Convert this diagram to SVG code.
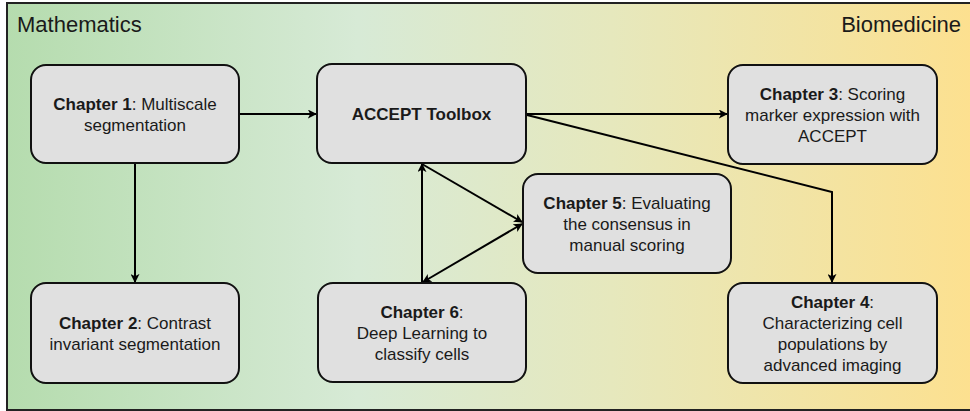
<svg xmlns="http://www.w3.org/2000/svg" width="970" height="411" viewBox="0 0 970 411">
  <defs>
    <linearGradient id="bg" x1="0" y1="0" x2="1" y2="0">
      <stop offset="0" stop-color="#b5dcae"/>
      <stop offset="0.36" stop-color="#d7ead6"/>
      <stop offset="0.62" stop-color="#e6e8bd"/>
      <stop offset="1" stop-color="#fde08e"/>
    </linearGradient>
    <marker id="ah" viewBox="0 0 10 10" refX="9" refY="5" markerWidth="9" markerHeight="9" markerUnits="userSpaceOnUse" orient="auto-start-reverse">
      <path d="M0,0 L10,5 L0,10 L2.5,5 Z" fill="#000"/>
    </marker>
    <style>
      .box { fill: #e0e0e0; stroke: #111; stroke-width: 2; }
      .lbl { font-family: "Liberation Sans", Arial, sans-serif; font-size: 17px; fill: #1a1a1a; text-anchor: middle; }
      .b { font-weight: bold; }
      .side { font-family: "Liberation Sans", Arial, sans-serif; font-size: 22px; fill: #1a1a1a; }
      .edge { fill: none; stroke: #000; stroke-width: 2; }
    </style>
  </defs>

  <!-- background panel -->
  <rect x="7" y="3" width="975" height="407" fill="url(#bg)" stroke="#222" stroke-width="2"/>
  <text class="side" x="17" y="32">Mathematics</text>
  <text class="side" x="961" y="32" text-anchor="end">Biomedicine</text>

  <!-- connectors -->
  <g id="edges">
    <line class="edge" x1="239" y1="114" x2="316" y2="114" marker-end="url(#ah)"/>
    <line class="edge" x1="135" y1="163" x2="135" y2="282" marker-end="url(#ah)"/>
    <line class="edge" x1="526" y1="114" x2="727" y2="114" marker-end="url(#ah)"/>
    <polyline class="edge" points="527,115 832,192 832,282" marker-end="url(#ah)"/>
    <line class="edge" x1="422" y1="283" x2="422" y2="164" marker-end="url(#ah)"/>
    <line class="edge" x1="422" y1="164" x2="522" y2="222" marker-end="url(#ah)"/>
    <line class="edge" x1="423" y1="282" x2="522" y2="224" marker-start="url(#ah)" marker-end="url(#ah)"/>
  </g>

  <g id="ch1">
    <rect class="box" x="31" y="65" width="208" height="98" rx="15"/>
    <text class="lbl" x="135" y="110"><tspan class="b">Chapter 1</tspan>: Multiscale</text>
    <text class="lbl" x="135" y="131">segmentation</text>
  </g>

  <g id="ch2">
    <rect class="box" x="31" y="283" width="208" height="100" rx="15"/>
    <text class="lbl" x="135" y="328.5"><tspan class="b">Chapter 2</tspan>: Contrast</text>
    <text class="lbl" x="135" y="349.5">invariant segmentation</text>
  </g>

  <g id="accept">
    <rect class="box" x="317" y="64" width="209" height="99" rx="15"/>
    <text class="lbl b" x="421.5" y="119.5">ACCEPT Toolbox</text>
  </g>

  <g id="ch5">
    <rect class="box" x="523" y="174" width="208" height="99" rx="15"/>
    <text class="lbl" x="627" y="208.5"><tspan class="b">Chapter 5</tspan>: Evaluating</text>
    <text class="lbl" x="627" y="229.5">the consensus in</text>
    <text class="lbl" x="627" y="250.5">manual scoring</text>
  </g>

  <g id="ch6">
    <rect class="box" x="318" y="283" width="208" height="99" rx="15"/>
    <text class="lbl" x="422" y="317.5"><tspan class="b">Chapter 6</tspan>:</text>
    <text class="lbl" x="422" y="338.5">Deep Learning to</text>
    <text class="lbl" x="422" y="359.5">classify cells</text>
  </g>

  <g id="ch3">
    <rect class="box" x="728" y="65" width="209" height="99" rx="15"/>
    <text class="lbl" x="832.5" y="99.5"><tspan class="b">Chapter 3</tspan>: Scoring</text>
    <text class="lbl" x="832.5" y="120.5">marker expression with</text>
    <text class="lbl" x="832.5" y="141.5">ACCEPT</text>
  </g>

  <g id="ch4">
    <rect class="box" x="728" y="283" width="209" height="100" rx="15"/>
    <text class="lbl" x="832.5" y="307.5"><tspan class="b">Chapter 4</tspan>:</text>
    <text class="lbl" x="832.5" y="328.5">Characterizing cell</text>
    <text class="lbl" x="832.5" y="349.5">populations by</text>
    <text class="lbl" x="832.5" y="370.5">advanced imaging</text>
  </g>
</svg>
